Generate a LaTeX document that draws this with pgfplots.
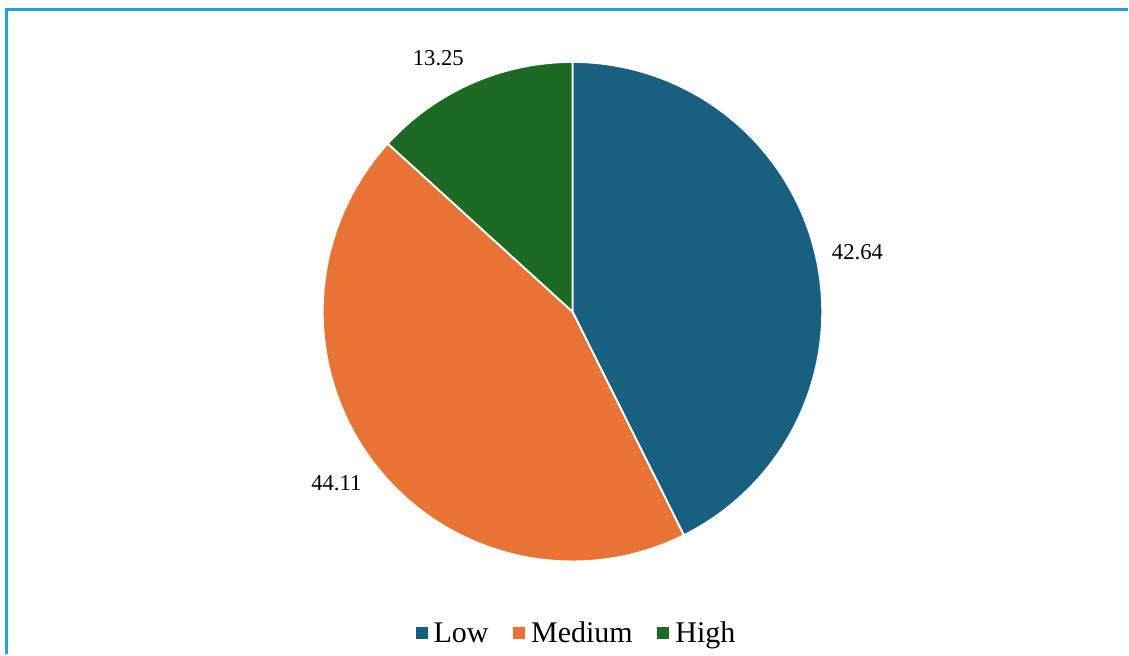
\documentclass[border=0pt]{standalone}
\usepackage{fontspec}
\setmainfont{Liberation Serif}
\usepackage{pgfplots}
\usepackage{pgfplotstable}
\pgfplotsset{compat=1.18}

\definecolor{cLow}{HTML}{18607F}
\definecolor{cMed}{HTML}{E97334}
\definecolor{cHigh}{HTML}{1C6A23}
\definecolor{cFrame}{HTML}{1BA3DC}

% shares in percent, listed clockwise from twelve o'clock
\pgfplotstableread{
label  share
Low    42.64
Medium 44.11
High   13.25
}\piedata

\pgfplotstablegetelem{0}{share}\of\piedata \let\sLow\pgfplotsretval
\pgfplotstablegetelem{1}{share}\of\piedata \let\sMed\pgfplotsretval
\pgfplotstablegetelem{2}{share}\of\piedata \let\sHigh\pgfplotsretval

% slice boundaries (degrees, counter-clockwise from east)
\pgfmathsetmacro{\aA}{90}
\pgfmathsetmacro{\aB}{\aA-3.6*\sLow}
\pgfmathsetmacro{\aC}{\aB-3.6*\sMed}
\pgfmathsetmacro{\aD}{\aC-3.6*\sHigh}
% mid angles for the value labels
\pgfmathsetmacro{\mA}{(\aA+\aB)/2}
\pgfmathsetmacro{\mB}{(\aB+\aC)/2}
\pgfmathsetmacro{\mC}{(\aC+\aD)/2}

\newcommand{\cx}{573}
\newcommand{\cy}{343}
\newcommand{\rr}{250}
\newcommand{\rl}{290}

\begin{document}
\begin{tikzpicture}
\begin{axis}[
  x=0.75pt, y=0.75pt,
  xmin=0, xmax=1129, ymin=0, ymax=655,
  hide axis, clip=false,
  legend columns=3,
  legend image code/.code={\fill[#1,draw=none] (0pt,-4.5pt) rectangle (9pt,4.5pt);},
  legend style={
    at={(axis cs:577,21)}, anchor=center,
    draw=none, fill=none, font=\fontsize{22.5}{26}\selectfont,
    nodes={inner sep=1.5pt},
    /tikz/every odd column/.append style={column sep=3pt},
    /tikz/every even column/.append style={column sep=17pt},
  },
]
% frame
\draw[cFrame, line width=1.6pt] (6.5,0) -- (6.5,645.5) -- (1129,645.5);
\path (0,0) rectangle (1129,655);

\addplot[fill=cLow, draw=white, line width=1.4pt, domain=\aB:\aA, samples=150, variable=\t]
  ({\cx+\rr*cos(\t)},{\cy+\rr*sin(\t)}) -- (\cx,\cy) -- cycle;
\addlegendentry{Low}
\addplot[fill=cMed, draw=white, line width=1.4pt, domain=\aC:\aB, samples=150, variable=\t]
  ({\cx+\rr*cos(\t)},{\cy+\rr*sin(\t)}) -- (\cx,\cy) -- cycle;
\addlegendentry{Medium}
\addplot[fill=cHigh, draw=white, line width=1.4pt, domain=\aD:\aC, samples=80, variable=\t]
  ({\cx+\rr*cos(\t)},{\cy+\rr*sin(\t)}) -- (\cx,\cy) -- cycle;
\addlegendentry{High}

\node[font=\fontsize{17}{20}\selectfont, xshift=2.25pt, yshift=-5.25pt]
  at ({\cx+\rl*cos(\mA)},{\cy+\rl*sin(\mA)}) {\sLow};
\node[font=\fontsize{17}{20}\selectfont, xshift=-3.75pt, yshift=2.25pt]
  at ({\cx+\rl*cos(\mB)},{\cy+\rl*sin(\mB)}) {\sMed};
\node[font=\fontsize{17}{20}\selectfont, xshift=-12.75pt, yshift=-8.25pt]
  at ({\cx+\rl*cos(\mC)},{\cy+\rl*sin(\mC)}) {\sHigh};
\end{axis}
\end{tikzpicture}
\end{document}
